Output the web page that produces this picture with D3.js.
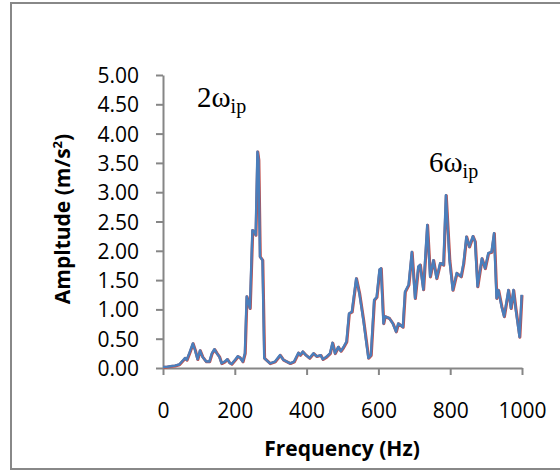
<!DOCTYPE html>
<meta charset="utf-8">
<title>Amplitude spectrum</title>
<style>
body{ margin:0; background:#fff; }
svg{ display:block; }
.axis path, .axis line{ stroke:#868686; stroke-width:2; }
.axis text{ font-family:'Open Sans', sans-serif; font-size:21px; fill:#000; }
.title{ font-family:'Open Sans', sans-serif; font-weight:bold; font-size:21px; fill:#000; }
.ann{ font-family:'Liberation Serif', serif; font-size:29px; fill:#000; }
</style>
<svg width="560" height="471"></svg>
<script src="https://d3js.org/d3.v7.min.js"></script>
<script>
// frequency (Hz)
var freq = [0,10,20,33,45,57,61,66,73,83,89,96,103,110,120,129,136,143,150,157,163,172,179,185,191,201,208,214,222,228,
  233,242,249,255,258,263,266,270,277,282,298,312,326,335,354,365,377,382,389,398,408,419,428,439,445,455,465,472,479,488,
  495,502,511,518,526,538,547,558,572,579,588,595,603,607,614,618,630,640,649,655,668,674,684,693,702,711,716,725,736,744,
  753,762,772,781,788,798,807,818,830,837,845,853,863,869,876,888,897,906,915,922,929,934,943,950,962,969,976,982,993,999];
// amplitude (m/s2), two measured series almost on top of each other
var ampRed = [0.02,0.02,0.03,0.04,0.06,0.14,0.17,0.14,0.25,0.42,0.31,0.15,0.30,0.19,0.11,0.11,0.25,0.32,0.25,0.19,0.08,0.11,0.15,0.09,0.07,0.14,0.20,0.18,0.11,0.25,
  1.22,1.02,2.35,2.33,2.27,3.69,3.55,1.90,1.84,0.17,0.08,0.11,0.22,0.14,0.08,0.11,0.26,0.22,0.28,0.22,0.17,0.25,0.20,0.22,0.15,0.19,0.25,0.43,0.25,0.36,
  0.29,0.35,0.45,0.93,0.96,1.53,1.27,0.82,0.17,0.22,1.16,1.21,1.68,1.70,0.76,0.88,0.85,0.76,0.62,0.76,0.70,1.30,1.42,1.98,1.19,1.73,1.76,1.34,2.44,1.56,
  1.84,1.53,1.79,1.76,2.95,1.84,1.33,1.62,1.56,1.79,2.24,2.07,2.25,2.16,1.39,1.87,1.70,1.96,1.98,2.30,1.19,1.33,1.05,0.88,1.33,1.02,1.33,1.02,0.53,1.25];
var ampBlue = [0.02,0.02,0.03,0.04,0.06,0.14,0.17,0.14,0.25,0.42,0.31,0.15,0.30,0.19,0.11,0.11,0.25,0.32,0.25,0.19,0.08,0.11,0.15,0.09,0.07,0.14,0.20,0.18,0.11,0.25,
  1.22,1.02,2.35,2.33,2.27,3.69,3.55,1.90,1.84,0.17,0.08,0.11,0.22,0.14,0.08,0.11,0.26,0.22,0.28,0.22,0.17,0.25,0.20,0.22,0.15,0.19,0.25,0.43,0.25,0.36,
  0.29,0.35,0.45,0.93,0.96,1.53,1.27,0.82,0.17,0.22,1.16,1.21,1.68,1.70,0.76,0.88,0.85,0.76,0.62,0.76,0.70,1.30,1.42,1.98,1.19,1.73,1.76,1.34,2.44,1.56,
  1.84,1.53,1.79,1.76,2.95,1.84,1.33,1.62,1.56,1.79,2.24,2.07,2.25,2.16,1.39,1.87,1.70,1.96,1.98,2.30,1.19,1.33,1.05,0.88,1.33,1.02,1.33,1.02,0.53,1.25];
var xTicks = [0,200,400,600,800,1000];
var yTicks = [0,0.5,1,1.5,2,2.5,3,3.5,4,4.5,5];

var svg = d3.select("svg");

// outer chart frame
svg.append("rect")
  .attr("x", 11).attr("y", 3).attr("width", 560).attr("height", 466)
  .attr("fill", "#fff").attr("stroke", "#888").attr("stroke-width", 2);

var x = d3.scaleLinear().domain([0, 1000]).range([163, 522]);
var y = d3.scaleLinear().domain([0, 5]).range([368, 75]);

svg.append("g")
  .attr("class", "axis")
  .attr("transform", "translate(0,368)")
  .call(d3.axisBottom(x).tickValues(xTicks).tickSize(7).tickSizeOuter(0).tickPadding(28).tickFormat(d3.format("d")));

svg.append("g")
  .attr("class", "axis")
  .attr("transform", "translate(163,0)")
  .call(d3.axisLeft(y).tickValues(yTicks).tickSize(7).tickSizeOuter(0).tickPadding(17).tickFormat(d3.format(".2f")));

svg.selectAll(".axis text").attr("dy", "0.36em");
svg.selectAll(".axis .tick text").filter(function() { return this.parentNode.parentNode.getAttribute("transform") === "translate(0,368)"; })
  .attr("dy", "0.71em");

var line = function(vals) {
  return d3.line()
    .x(function(d, i) { return x(freq[i]); })
    .y(function(d) { return y(d); })(vals);
};

svg.append("path")
  .attr("d", line(ampRed))
  .attr("fill", "none").attr("stroke", "#c0504d").attr("stroke-width", 3)
  .attr("stroke-linejoin", "round")
  .attr("transform", "translate(0.4,0.3)");

svg.append("path")
  .attr("d", line(ampBlue))
  .attr("fill", "none").attr("stroke", "#4a7ebb").attr("stroke-width", 2.4)
  .attr("stroke-linejoin", "round");

// axis titles
svg.append("text").attr("class", "title")
  .attr("x", 342).attr("y", 456).attr("text-anchor", "middle")
  .text("Frequency (Hz)");

var yt = svg.append("text").attr("class", "title")
  .attr("transform", "translate(70,219) rotate(-90)")
  .attr("text-anchor", "middle");
yt.append("tspan").text("Ampltude (m/s");
yt.append("tspan").attr("font-size", "13px").attr("dy", -8).text("2");
yt.append("tspan").attr("dy", 8).text(")");

// peak annotations
var a1 = svg.append("text").attr("class", "ann").attr("x", 197).attr("y", 107);
a1.append("tspan").text("2ω");
a1.append("tspan").attr("font-size", "20px").attr("dy", 6).text("ip");

var a2 = svg.append("text").attr("class", "ann").attr("x", 429).attr("y", 172);
a2.append("tspan").text("6ω");
a2.append("tspan").attr("font-size", "20px").attr("dy", 6).text("ip");
</script>
